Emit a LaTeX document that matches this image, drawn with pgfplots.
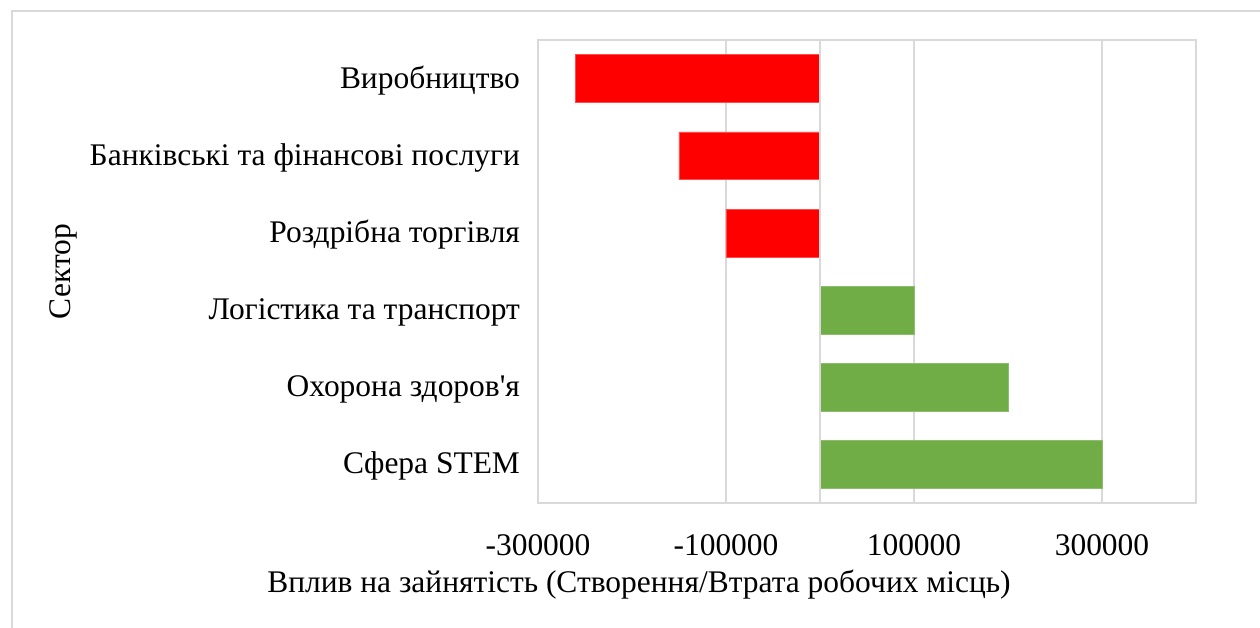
\documentclass[border=0pt]{standalone}
\usepackage{fontspec}
\setmainfont{Liberation Serif}
\usepackage{pgfplots}
\pgfplotsset{compat=1.18}
\definecolor{gridgray}{HTML}{D9D9D9}
\definecolor{barred}{HTML}{FF0000}
\definecolor{bargreen}{HTML}{70AD47}
\begin{document}
\begin{tikzpicture}
\useasboundingbox (0pt,0pt) rectangle (945pt,471pt);
\draw[gridgray,line width=1.2pt] (9pt,0pt) -- (9pt,462.75pt) -- (945pt,462.75pt);
\begin{axis}[
  at={(403.5pt,93.75pt)}, anchor=south west,
  scale only axis,
  width=493.5pt, height=347.25pt,
  xbar, bar shift=0pt, bar width=0.62,
  xmin=-300000, xmax=400000,
  ymin=-0.5, ymax=5.5,
  y dir=reverse,
  xtick={-300000,-100000,100000,300000},
  scaled x ticks=false,
  xticklabel style={/pgf/number format/fixed,/pgf/number format/1000 sep={}, yshift=-20pt},
  /pgf/number format/assume math mode=true,
  ytick={0,1,2,3,4,5},
  yticklabels={Виробництво,Банківські та фінансові послуги,Роздрібна торгівля,Логістика та транспорт,Охорона здоров\textquotesingle я,Сфера STEM},
  yticklabel style={xshift=-10pt, yshift=-1.5pt},
  major tick length=0pt,
  xmajorgrids,
  grid style={gridgray,line width=1.2pt},
  axis line style={gridgray,line width=1.2pt},
  tick label style={font=\fontsize{23.6}{28}\selectfont},
  label style={font=\fontsize{23.6}{28}\selectfont},
  xlabel={Вплив на зайнятість (Створення/Втрата робочих місць)},
  xlabel style={at={(axis description cs:0.1535,-0.1755)}, anchor=center},
  ylabel={Сектор},
  ylabel style={at={(axis description cs:-0.721,0.5)}, anchor=center, rotate=0},
  clip=false,
]
\addplot[fill=barred, draw=barred!70!white] coordinates {(-260000,0) (-150000,1) (-100000,2)};
\addplot[fill=bargreen, draw=bargreen!80!white] coordinates {(100000,3) (200000,4) (300000,5)};
\draw[gridgray,line width=1.2pt] (axis cs:0,-0.5) -- (axis cs:0,5.5);
\end{axis}
\end{tikzpicture}
\end{document}
